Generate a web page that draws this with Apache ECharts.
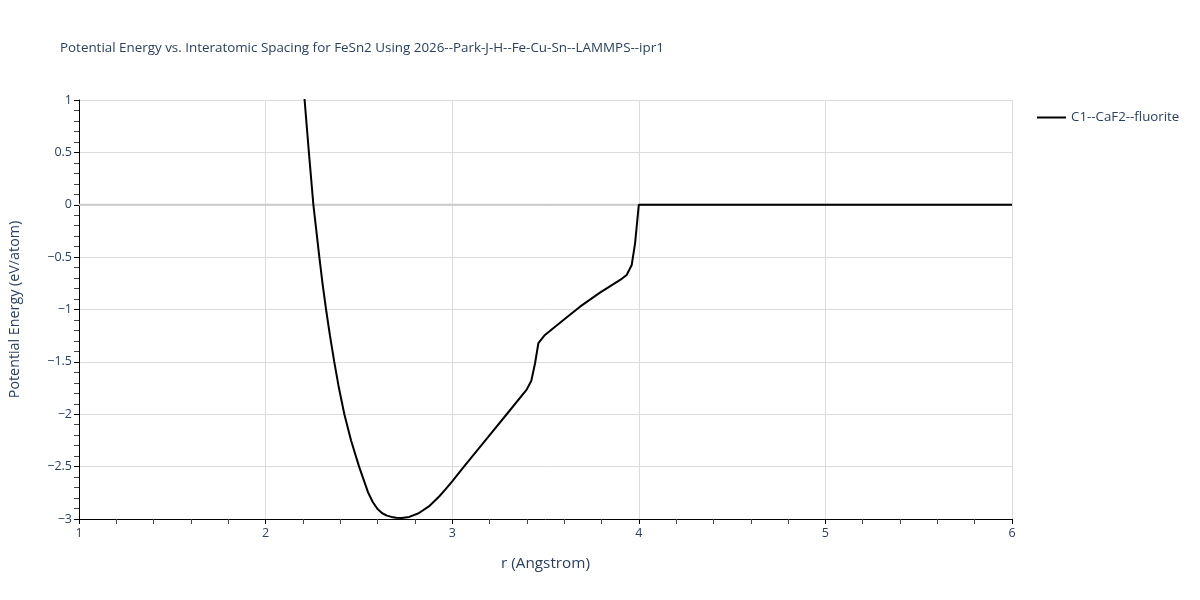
<!DOCTYPE html>
<html>
<head>
<meta charset="utf-8">
<script src="https://cdn.jsdelivr.net/npm/echarts@6/dist/echarts.min.js"></script>
<style>
  html, body { margin: 0; padding: 0; background: #fff; }
  #chart { width: 1200px; height: 600px; }
</style>
</head>
<body>
<div id="chart"></div>
<script>
// spacing r (Angstrom) and energy (eV/atom)
var rValues = [2.18, 2.209, 2.232, 2.256, 2.272, 2.288, 2.305, 2.324, 2.345, 2.368, 2.393, 2.422, 2.458, 2.501, 2.55, 2.575, 2.6, 2.625, 2.65, 2.675, 2.70, 2.729, 2.77, 2.82, 2.875, 2.93, 2.965, 3.0, 3.063, 3.18, 3.292, 3.399, 3.424, 3.444, 3.462, 3.497, 3.596, 3.685, 3.792, 3.9, 3.935, 3.962, 3.98, 4.0, 6.0]
var energyValues = [1.65, 1.0, 0.5, 0.0, -0.25, -0.5, -0.75, -1.0, -1.25, -1.5, -1.75, -2.0, -2.25, -2.5, -2.75, -2.84, -2.905, -2.945, -2.968, -2.98, -2.987, -2.99, -2.98, -2.945, -2.88, -2.785, -2.715, -2.64, -2.5, -2.245, -2.0, -1.765, -1.68, -1.513, -1.32, -1.243, -1.10, -0.973, -0.839, -0.718, -0.671, -0.575, -0.368, 0.0, 0.0]
var seriesName = 'C1--CaF2--fluorite'
var zeroLine = [[1, 0], [6, 0]]

var textColor = '#2a3f5f'
var fontName = '"Open Sans", "Noto Sans", sans-serif'

var points = rValues.map(function(r, i) { return [r, energyValues[i]] })

function minusLabel(v) {
  return String(v).replace('-', '\u2212')
}

var chart = echarts.init(document.getElementById('chart'))
var option = {
  backgroundColor: '#fff',
  animation: false,
  textStyle: { fontFamily: fontName },
  title: {
    text: 'Potential Energy vs. Interatomic Spacing for FeSn2 Using 2026--Park-J-H--Fe-Cu-Sn--LAMMPS--ipr1',
    left: 55,
    top: 37,
    textStyle: { fontSize: 13.4, fontWeight: 'normal', color: textColor, fontFamily: fontName }
  },
  legend: {
    data: [seriesName],
    left: 1032,
    top: 106,
    icon: 'rect',
    itemWidth: 29,
    itemHeight: 2,
    itemGap: 10,
    textStyle: { fontSize: 13.3, color: textColor, fontFamily: fontName }
  },
  grid: { left: 79, right: 188, top: 100, bottom: 81, containLabel: false },
  xAxis: {
    type: 'value',
    min: 1,
    max: 6,
    interval: 1,
    name: 'r (Angstrom)',
    nameLocation: 'middle',
    nameGap: 37,
    nameTextStyle: { fontSize: 15.3, color: textColor, fontFamily: fontName },
    axisLine: { show: true, onZero: false, lineStyle: { color: '#000', width: 1 } },
    axisTick: { show: true, length: 5, lineStyle: { color: '#000' } },
    minorTick: { show: true, splitNumber: 5, length: 5, lineStyle: { color: '#444' } },
    axisLabel: { fontSize: 12.5, color: textColor, margin: 8 },
    splitLine: { show: true, lineStyle: { color: '#dcdcdc', width: 1 } }
  },
  yAxis: {
    type: 'value',
    min: -3,
    max: 1,
    interval: 0.5,
    name: 'Potential Energy (eV/atom)',
    nameLocation: 'middle',
    nameGap: 57,
    nameTextStyle: { fontSize: 14.3, color: textColor, fontFamily: fontName },
    axisLine: { show: true, onZero: false, lineStyle: { color: '#000', width: 1 } },
    axisTick: { show: true, length: 5, lineStyle: { color: '#000' } },
    minorTick: { show: true, splitNumber: 5, length: 5, lineStyle: { color: '#444' } },
    axisLabel: { fontSize: 12.5, color: textColor, margin: 7, formatter: minusLabel },
    splitLine: { show: true, lineStyle: { color: '#dcdcdc', width: 1 } }
  },
  series: [
    {
      name: 'zero',
      type: 'line',
      data: zeroLine,
      symbol: 'none',
      silent: true,
      z: 1,
      lineStyle: { color: '#cccccc', width: 2 }
    },
    {
      name: seriesName,
      type: 'line',
      data: points,
      symbol: 'none',
      clip: true,
      z: 3,
      itemStyle: { color: '#000' },
      lineStyle: { color: '#000', width: 2 }
    }
  ]
}
chart.setOption(option)
</script>
</body>
</html>
